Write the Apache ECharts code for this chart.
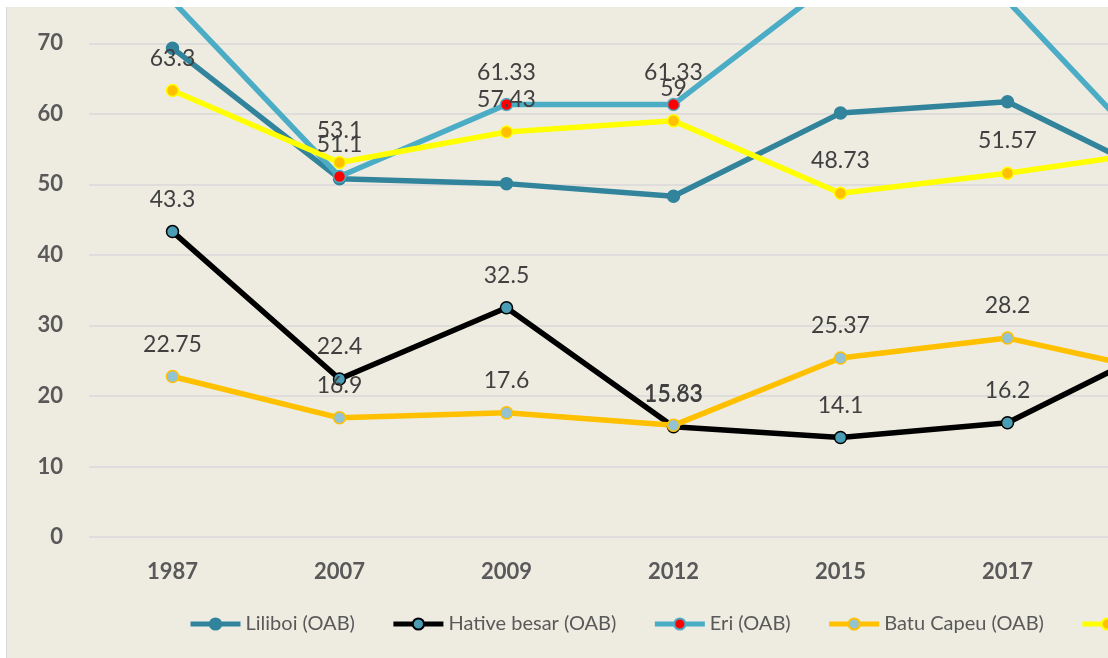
<!DOCTYPE html>
<html>
<head>
<meta charset="utf-8">
<script src="https://cdn.jsdelivr.net/npm/echarts@6/dist/echarts.min.js"></script>
<style>
  html, body { margin: 0; padding: 0; background: #ffffff; overflow: hidden; }
  #chart {
    position: absolute; left: 6px; top: 7px;
    width: 1300px; height: 651px;
    background: #EEECE1;
    border-left: 1px solid #D9D9D9;
  }
</style>
</head>
<body>
<div id="chart"></div>
<script>
// tahun pengamatan
const years = ['1987', '2007', '2009', '2012', '2015', '2017', '2019']

const liliboi = [69.3, 50.8, 50.1, 48.3, 60.1, 61.7, 50]
const hativeBesar = [43.3, 22.4, 32.5, 15.63, 14.1, 16.2, 28]
const eri = [76, 51.1, 61.33, 61.33, 79.5, 76, 50.8]
const batuCapeu = [22.75, 16.9, 17.6, 15.83, 25.37, 28.2, 23]
const tulehu = [63.3, 53.1, 57.43, 59, 48.73, 51.57, 55]

const font = 'Lato, "Open Sans", sans-serif'

const chart = echarts.init(document.getElementById('chart'))

const dataLabel = {
  show: true,
  position: 'top',
  distance: 14,
  color: '#404040',
  fontSize: 23,
  fontFamily: font
}

const makeSeries = (name, data, lineColor, fill, border, showLabel) => ({
  name,
  type: 'line',
  data,
  clip: true,
  symbol: 'circle',
  symbolSize: 12,
  lineStyle: { color: lineColor, width: 5.5 },
  itemStyle: { color: fill, borderColor: border, borderWidth: 1.5 },
  label: showLabel ? dataLabel : { show: false },
  emphasis: { disabled: true }
})

chart.setOption({
  animation: false,
  grid: { left: 82, top: 1, width: 1169, height: 529 },
  legend: {
    left: 176,
    top: 602,
    itemWidth: 50,
    itemHeight: 14,
    itemGap: 36,
    lineStyle: { width: 5 },
    textStyle: { color: '#595959', fontSize: 20, fontFamily: font }
  },
  xAxis: {
    type: 'category',
    data: years,
    axisLine: { show: false },
    axisTick: { show: false },
    axisLabel: {
      color: '#595959', fontSize: 22, fontWeight: 'bold',
      fontFamily: font, margin: 24
    }
  },
  yAxis: {
    type: 'value',
    min: 0,
    max: 75,
    interval: 10,
    axisLine: { show: false },
    axisTick: { show: false },
    axisLabel: {
      color: '#595959', fontSize: 22, fontWeight: 'bold',
      fontFamily: font, margin: 26, showMaxLabel: false
    },
    splitLine: { showMaxLine: false, lineStyle: { color: '#D9D9D9', width: 1.5 } }
  },
  series: [
    makeSeries('Liliboi (OAB)', liliboi, '#31849B', '#31849B', '#31849B', false),
    makeSeries('Hative besar (OAB)', hativeBesar, '#000000', '#4A9DB5', '#000000', true),
    makeSeries('Eri (OAB)', eri, '#4BACC6', '#FF0000', '#4BACC6', true),
    makeSeries('Batu Capeu (OAB)', batuCapeu, '#FFC000', '#93C3D3', '#FFC000', true),
    makeSeries('Tulehu (OAB)', tulehu, '#FFFF00', '#FFC000', '#FFFF00', true)
  ]
})
</script>
</body>
</html>
